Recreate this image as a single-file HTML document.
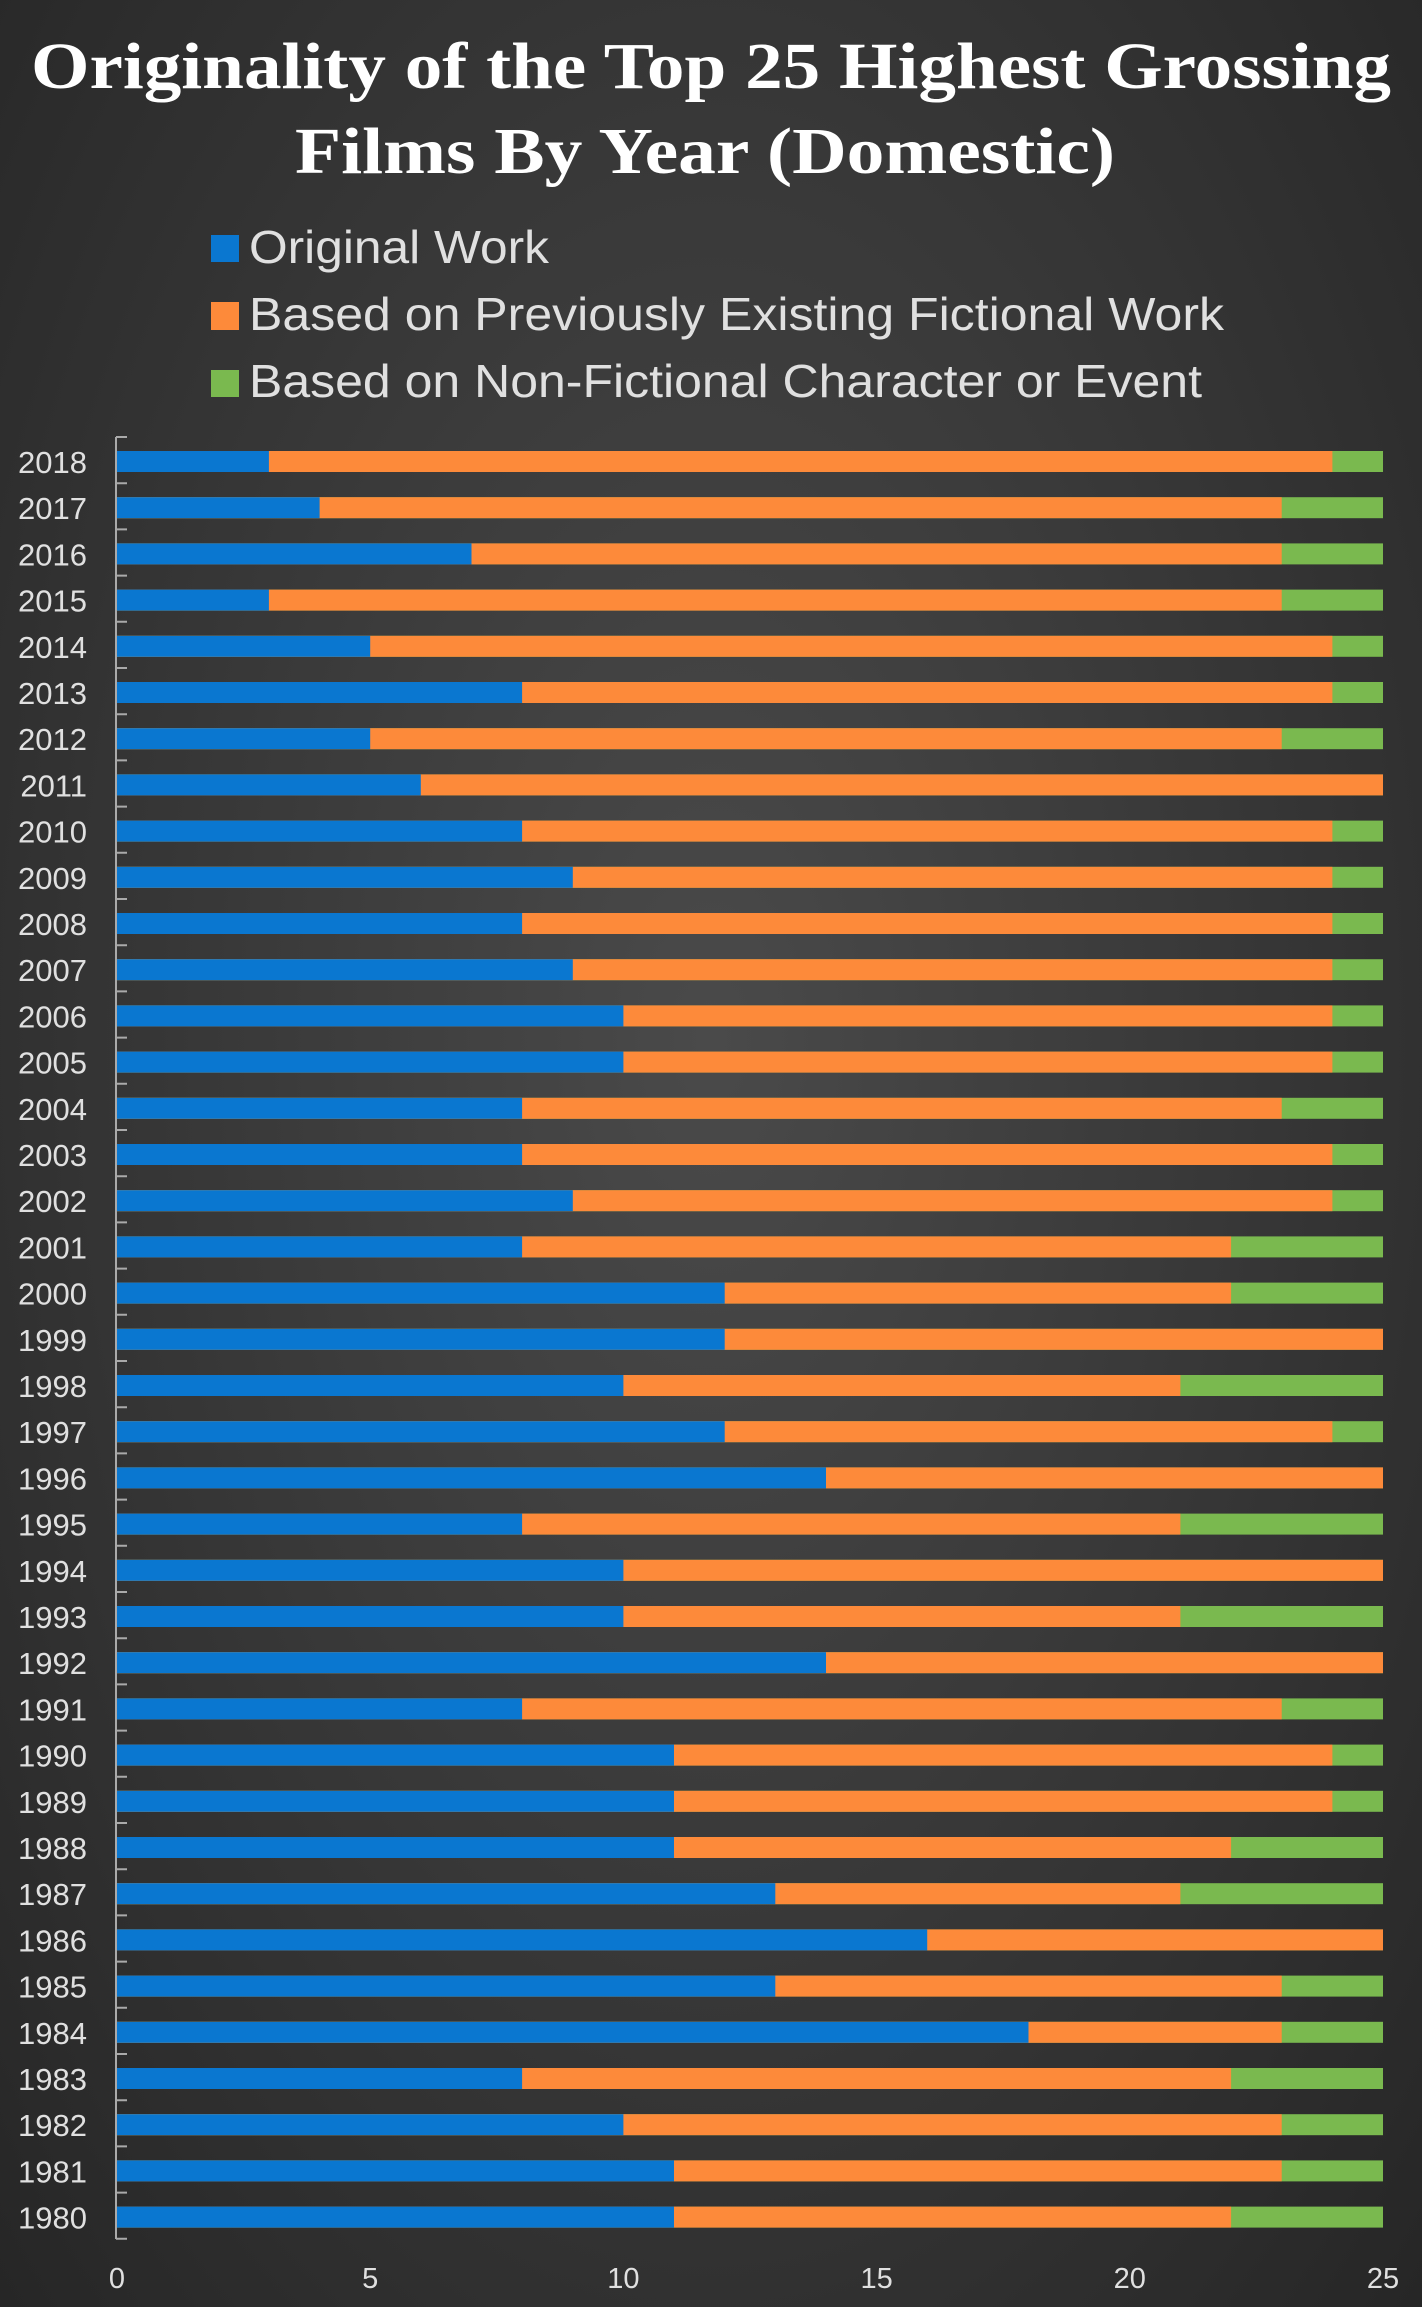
<!DOCTYPE html>
<html><head><meta charset="utf-8"><style>
html,body{margin:0;padding:0;}
body{width:1422px;height:2307px;background:radial-gradient(ellipse at 50% 45%,#4a4a4a 0%,#3a3a3a 45%,#262626 100%);overflow:hidden;}
svg{display:block;}
.g{fill:#7ab94f}.o{fill:#fd8a3a}.b{fill:#0a77d0}
.y{font-size:31px;fill:#e0e0e0;text-anchor:end}
</style></head><body>
<svg width="1422" height="2307" xmlns="http://www.w3.org/2000/svg" font-family="Liberation Sans, sans-serif">
<text x="711" y="88" text-anchor="middle" font-family="Liberation Serif, serif" font-weight="bold" font-size="66" fill="#fff" textLength="1360" lengthAdjust="spacingAndGlyphs">Originality of the Top 25 Highest Grossing</text>
<text x="705" y="173" text-anchor="middle" font-family="Liberation Serif, serif" font-weight="bold" font-size="66" fill="#fff" textLength="820" lengthAdjust="spacingAndGlyphs">Films By Year (Domestic)</text>
<rect x="211" y="235" width="28" height="27" fill="#0a77d0"/>
<rect x="211" y="302" width="28" height="28" fill="#fd8a3a"/>
<rect x="211" y="370" width="28" height="27" fill="#7ab94f"/>
<g font-size="46" fill="#e0e0e0">
<text x="249" y="263" textLength="300" lengthAdjust="spacingAndGlyphs">Original Work</text>
<text x="249" y="330" textLength="975" lengthAdjust="spacingAndGlyphs">Based on Previously Existing Fictional Work</text>
<text x="249" y="397" textLength="953" lengthAdjust="spacingAndGlyphs">Based on Non-Fictional Character or Event</text>
</g>
<path stroke="#aaa" stroke-width="2" fill="none" d="M116 437V2239 M116 437h11 M116 483.2h11 M116 529.4h11 M116 575.6h11 M116 621.8h11 M116 668h11 M116 714.2h11 M116 760.4h11 M116 806.6h11 M116 852.8h11 M116 899h11 M116 945.2h11 M116 991.4h11 M116 1037.6h11 M116 1083.8h11 M116 1130h11 M116 1176.2h11 M116 1222.4h11 M116 1268.6h11 M116 1314.8h11 M116 1361h11 M116 1407.2h11 M116 1453.4h11 M116 1499.6h11 M116 1545.8h11 M116 1592h11 M116 1638.2h11 M116 1684.4h11 M116 1730.6h11 M116 1776.8h11 M116 1823h11 M116 1869.2h11 M116 1915.4h11 M116 1961.6h11 M116 2007.8h11 M116 2054h11 M116 2100.2h11 M116 2146.4h11 M116 2192.6h11 M116 2238.8h11"/>

<g transform="translate(0,451)"><rect class="g" x="117" width="1266" height="21"/><rect class="o" x="117" width="1215.4" height="21"/><rect class="b" x="117" width="151.9" height="21"/><text class="y" x="87" y="22">2018</text></g>
<g transform="translate(0,497.2)"><rect class="g" x="117" width="1266" height="21"/><rect class="o" x="117" width="1164.7" height="21"/><rect class="b" x="117" width="202.6" height="21"/><text class="y" x="87" y="22">2017</text></g>
<g transform="translate(0,543.4)"><rect class="g" x="117" width="1266" height="21"/><rect class="o" x="117" width="1164.7" height="21"/><rect class="b" x="117" width="354.5" height="21"/><text class="y" x="87" y="22">2016</text></g>
<g transform="translate(0,589.6)"><rect class="g" x="117" width="1266" height="21"/><rect class="o" x="117" width="1164.7" height="21"/><rect class="b" x="117" width="151.9" height="21"/><text class="y" x="87" y="22">2015</text></g>
<g transform="translate(0,635.8)"><rect class="g" x="117" width="1266" height="21"/><rect class="o" x="117" width="1215.4" height="21"/><rect class="b" x="117" width="253.2" height="21"/><text class="y" x="87" y="22">2014</text></g>
<g transform="translate(0,682)"><rect class="g" x="117" width="1266" height="21"/><rect class="o" x="117" width="1215.4" height="21"/><rect class="b" x="117" width="405.1" height="21"/><text class="y" x="87" y="22">2013</text></g>
<g transform="translate(0,728.2)"><rect class="g" x="117" width="1266" height="21"/><rect class="o" x="117" width="1164.7" height="21"/><rect class="b" x="117" width="253.2" height="21"/><text class="y" x="87" y="22">2012</text></g>
<g transform="translate(0,774.4)"><rect class="g" x="117" width="1266" height="21"/><rect class="o" x="117" width="1266" height="21"/><rect class="b" x="117" width="303.8" height="21"/><text class="y" x="87" y="22">2011</text></g>
<g transform="translate(0,820.6)"><rect class="g" x="117" width="1266" height="21"/><rect class="o" x="117" width="1215.4" height="21"/><rect class="b" x="117" width="405.1" height="21"/><text class="y" x="87" y="22">2010</text></g>
<g transform="translate(0,866.8)"><rect class="g" x="117" width="1266" height="21"/><rect class="o" x="117" width="1215.4" height="21"/><rect class="b" x="117" width="455.8" height="21"/><text class="y" x="87" y="22">2009</text></g>
<g transform="translate(0,913)"><rect class="g" x="117" width="1266" height="21"/><rect class="o" x="117" width="1215.4" height="21"/><rect class="b" x="117" width="405.1" height="21"/><text class="y" x="87" y="22">2008</text></g>
<g transform="translate(0,959.2)"><rect class="g" x="117" width="1266" height="21"/><rect class="o" x="117" width="1215.4" height="21"/><rect class="b" x="117" width="455.8" height="21"/><text class="y" x="87" y="22">2007</text></g>
<g transform="translate(0,1005.4)"><rect class="g" x="117" width="1266" height="21"/><rect class="o" x="117" width="1215.4" height="21"/><rect class="b" x="117" width="506.4" height="21"/><text class="y" x="87" y="22">2006</text></g>
<g transform="translate(0,1051.6)"><rect class="g" x="117" width="1266" height="21"/><rect class="o" x="117" width="1215.4" height="21"/><rect class="b" x="117" width="506.4" height="21"/><text class="y" x="87" y="22">2005</text></g>
<g transform="translate(0,1097.8)"><rect class="g" x="117" width="1266" height="21"/><rect class="o" x="117" width="1164.7" height="21"/><rect class="b" x="117" width="405.1" height="21"/><text class="y" x="87" y="22">2004</text></g>
<g transform="translate(0,1144)"><rect class="g" x="117" width="1266" height="21"/><rect class="o" x="117" width="1215.4" height="21"/><rect class="b" x="117" width="405.1" height="21"/><text class="y" x="87" y="22">2003</text></g>
<g transform="translate(0,1190.2)"><rect class="g" x="117" width="1266" height="21"/><rect class="o" x="117" width="1215.4" height="21"/><rect class="b" x="117" width="455.8" height="21"/><text class="y" x="87" y="22">2002</text></g>
<g transform="translate(0,1236.4)"><rect class="g" x="117" width="1266" height="21"/><rect class="o" x="117" width="1114.1" height="21"/><rect class="b" x="117" width="405.1" height="21"/><text class="y" x="87" y="22">2001</text></g>
<g transform="translate(0,1282.6)"><rect class="g" x="117" width="1266" height="21"/><rect class="o" x="117" width="1114.1" height="21"/><rect class="b" x="117" width="607.7" height="21"/><text class="y" x="87" y="22">2000</text></g>
<g transform="translate(0,1328.8)"><rect class="g" x="117" width="1266" height="21"/><rect class="o" x="117" width="1266" height="21"/><rect class="b" x="117" width="607.7" height="21"/><text class="y" x="87" y="22">1999</text></g>
<g transform="translate(0,1375)"><rect class="g" x="117" width="1266" height="21"/><rect class="o" x="117" width="1063.4" height="21"/><rect class="b" x="117" width="506.4" height="21"/><text class="y" x="87" y="22">1998</text></g>
<g transform="translate(0,1421.2)"><rect class="g" x="117" width="1266" height="21"/><rect class="o" x="117" width="1215.4" height="21"/><rect class="b" x="117" width="607.7" height="21"/><text class="y" x="87" y="22">1997</text></g>
<g transform="translate(0,1467.4)"><rect class="g" x="117" width="1266" height="21"/><rect class="o" x="117" width="1266" height="21"/><rect class="b" x="117" width="709" height="21"/><text class="y" x="87" y="22">1996</text></g>
<g transform="translate(0,1513.6)"><rect class="g" x="117" width="1266" height="21"/><rect class="o" x="117" width="1063.4" height="21"/><rect class="b" x="117" width="405.1" height="21"/><text class="y" x="87" y="22">1995</text></g>
<g transform="translate(0,1559.8)"><rect class="g" x="117" width="1266" height="21"/><rect class="o" x="117" width="1266" height="21"/><rect class="b" x="117" width="506.4" height="21"/><text class="y" x="87" y="22">1994</text></g>
<g transform="translate(0,1606)"><rect class="g" x="117" width="1266" height="21"/><rect class="o" x="117" width="1063.4" height="21"/><rect class="b" x="117" width="506.4" height="21"/><text class="y" x="87" y="22">1993</text></g>
<g transform="translate(0,1652.2)"><rect class="g" x="117" width="1266" height="21"/><rect class="o" x="117" width="1266" height="21"/><rect class="b" x="117" width="709" height="21"/><text class="y" x="87" y="22">1992</text></g>
<g transform="translate(0,1698.4)"><rect class="g" x="117" width="1266" height="21"/><rect class="o" x="117" width="1164.7" height="21"/><rect class="b" x="117" width="405.1" height="21"/><text class="y" x="87" y="22">1991</text></g>
<g transform="translate(0,1744.6)"><rect class="g" x="117" width="1266" height="21"/><rect class="o" x="117" width="1215.4" height="21"/><rect class="b" x="117" width="557" height="21"/><text class="y" x="87" y="22">1990</text></g>
<g transform="translate(0,1790.8)"><rect class="g" x="117" width="1266" height="21"/><rect class="o" x="117" width="1215.4" height="21"/><rect class="b" x="117" width="557" height="21"/><text class="y" x="87" y="22">1989</text></g>
<g transform="translate(0,1837)"><rect class="g" x="117" width="1266" height="21"/><rect class="o" x="117" width="1114.1" height="21"/><rect class="b" x="117" width="557" height="21"/><text class="y" x="87" y="22">1988</text></g>
<g transform="translate(0,1883.2)"><rect class="g" x="117" width="1266" height="21"/><rect class="o" x="117" width="1063.4" height="21"/><rect class="b" x="117" width="658.3" height="21"/><text class="y" x="87" y="22">1987</text></g>
<g transform="translate(0,1929.4)"><rect class="g" x="117" width="1266" height="21"/><rect class="o" x="117" width="1266" height="21"/><rect class="b" x="117" width="810.2" height="21"/><text class="y" x="87" y="22">1986</text></g>
<g transform="translate(0,1975.6)"><rect class="g" x="117" width="1266" height="21"/><rect class="o" x="117" width="1164.7" height="21"/><rect class="b" x="117" width="658.3" height="21"/><text class="y" x="87" y="22">1985</text></g>
<g transform="translate(0,2021.8)"><rect class="g" x="117" width="1266" height="21"/><rect class="o" x="117" width="1164.7" height="21"/><rect class="b" x="117" width="911.5" height="21"/><text class="y" x="87" y="22">1984</text></g>
<g transform="translate(0,2068)"><rect class="g" x="117" width="1266" height="21"/><rect class="o" x="117" width="1114.1" height="21"/><rect class="b" x="117" width="405.1" height="21"/><text class="y" x="87" y="22">1983</text></g>
<g transform="translate(0,2114.2)"><rect class="g" x="117" width="1266" height="21"/><rect class="o" x="117" width="1164.7" height="21"/><rect class="b" x="117" width="506.4" height="21"/><text class="y" x="87" y="22">1982</text></g>
<g transform="translate(0,2160.4)"><rect class="g" x="117" width="1266" height="21"/><rect class="o" x="117" width="1164.7" height="21"/><rect class="b" x="117" width="557" height="21"/><text class="y" x="87" y="22">1981</text></g>
<g transform="translate(0,2206.6)"><rect class="g" x="117" width="1266" height="21"/><rect class="o" x="117" width="1114.1" height="21"/><rect class="b" x="117" width="557" height="21"/><text class="y" x="87" y="22">1980</text></g>

<g font-size="29" fill="#e0e0e0" text-anchor="middle">
<text x="117" y="2288">0</text>
<text x="370.2" y="2288">5</text>
<text x="623.4" y="2288">10</text>
<text x="876.6" y="2288">15</text>
<text x="1129.8" y="2288">20</text>
<text x="1383" y="2288">25</text>
</g>
</svg>
</body></html>
